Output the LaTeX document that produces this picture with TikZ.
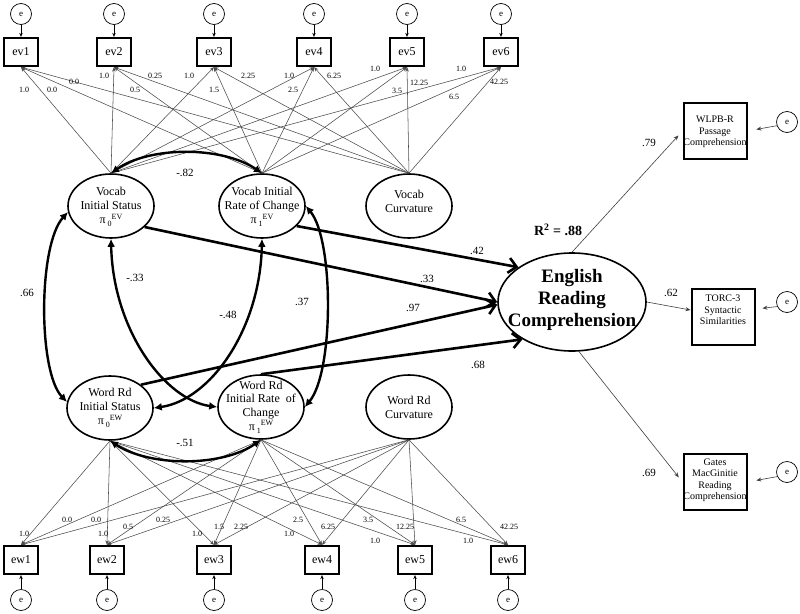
\documentclass[tikz,border=0pt]{standalone}
\usepackage{fontspec}
\setmainfont{Liberation Serif}
\usetikzlibrary{shapes.geometric,arrows.meta,calc}
\newcommand\pis[2]{π\,\raisebox{-0.5ex}{\fontsize{8}{8}\selectfont#1}\raisebox{0.8ex}{\fontsize{8}{8}\selectfont#2}}
\begin{document}
\begin{tikzpicture}[x=1pt,y=-1pt,
  obs/.style={draw,line width=2.3pt,minimum width=34pt,minimum height=28pt,inner sep=0pt,font=\fontsize{12}{13}\selectfont},
  err/.style={draw,circle,line width=0.7pt,minimum size=21pt,inner sep=0pt,font=\fontsize{9}{10}\selectfont},
  lat/.style={draw,ellipse,line width=1.6pt,minimum width=86pt,minimum height=64pt,inner sep=0pt},
  lt/.style={align=center,font=\fontsize{12}{14}\selectfont,inner sep=0pt},
  load/.style={draw=black!70,line width=0.55pt,-{Stealth[length=4.5pt,width=3.5pt]}},
  earr/.style={line width=0.6pt,-{Stealth[length=4pt,width=3.5pt]}},
  big/.style={line width=2.6pt,-{Straight Barb[length=8pt,width=15pt]}},
  corr/.style={line width=2.4pt,{Latex[length=8pt,width=8pt]}-{Latex[length=8pt,width=8pt]}},
  sl/.style={font=\fontsize{8}{9}\selectfont,inner sep=0pt},
  cl/.style={font=\fontsize{11}{12}\selectfont,inner sep=0pt},
  outbox/.style={draw,line width=2pt,minimum width=63pt,minimum height=56pt,inner sep=0pt},
  ot/.style={align=center,font=\fontsize{10}{11.5}\selectfont,inner sep=0pt},
  oarr/.style={draw=black!75,line width=0.6pt,-{Stealth[length=5pt,width=4pt]}}
]
\fill[white] (0,0) rectangle (800,613);
\useasboundingbox (0,0) rectangle (800,613);

% observed indicators, top and bottom
\foreach \i/\x in {1/21,2/114,3/214,4/314,5/407,6/501} {
  \node[obs] (ev\i) at (\x,52) {ev\i};
  \node[err] (eev\i) at (\x,14) {e};
  \draw[earr] (eev\i) -- (ev\i);
}
\foreach \i/\x in {1/21,2/107,3/214,4/322,5/415,6/508} {
  \node[obs] (ew\i) at (\x,560) {ew\i};
  \node[err] (eew\i) at (\x,600) {e};
  \draw[earr] (eew\i) -- (ew\i);
}

% latent growth factors
\node[lat] (VIS) at (111,206) {};
\node[lt] (VISt) at (111,207) {Vocab\\Initial Status\\\pis{0}{EV}};
\node[lat] (VRC) at (262,206) {};
\node[lt] (VRCt) at (262,207) {Vocab Initial\\Rate of Change\\\pis{1}{EV}};
\node[lat] (VC) at (409,206) {};
\node[lt] (VCt) at (409,201) {Vocab\\Curvature};
\node[lat] (WIS) at (110,408) {};
\node[lt] (WISt) at (110,408) {Word Rd\\Initial Status\\\pis{0}{EW}};
\node[lat] (WRC) at (261,407) {};
\node[lt,font=\fontsize{12}{13.7}\selectfont] (WRCt) at (261,407) {Word Rd\\Initial Rate~ of\\Change\\\pis{1}{EW}};
\node[lat] (WC) at (409,407) {};
\node[lt] (WCt) at (409,407) {Word Rd\\Curvature};

% loadings
\foreach \L in {VIS,VRC,VC} \foreach \i in {1,...,6} \draw[load] (\L.north) -- (ev\i.south);
\foreach \L in {WIS,WRC,WC} \foreach \i in {1,...,6} \draw[load] (\L.south) -- (ew\i.north);

\foreach [count=\k] \x/\y/\lab in {24/90/1.0,52/90/0.0,74/82/0.0,104/76/1.0,135/90/0.5,155/76/0.25,189/76/1.0,214/90/1.5,248/76/2.25,289/76/1.0,293/90/2.5,334/76/6.25,375/69/1.0,397/91/3.5,419/83/12.25,461/69/1.0,454/97/6.5,499/82/42.25}
  \node[sl] (tl\k) at (\x,\y) {\lab};
\foreach [count=\k] \x/\y/\lab in {24/534/1.0,67/520/0.0,96/520/0.0,103/534/1.0,128/527/0.5,163/520/0.25,197/534/1.0,219/527/1.5,241/527/2.25,289/534/1.0,298/520/2.5,328/527/6.25,368/520/3.5,375/541/1.0,405/527/12.25,461/520/6.5,468/541/1.0,509/527/42.25}
  \node[sl] (bl\k) at (\x,\y) {\lab};

% outcome
\node[draw,ellipse,line width=1.6pt,minimum width=148pt,minimum height=98pt,inner sep=0pt] (ERC) at (572,302) {};
\node[align=center,inner sep=0pt,font=\bfseries\fontsize{19}{22}\selectfont] (ERCt) at (572,300) {English\\Reading\\Comprehension};
\node[inner sep=0pt,font=\bfseries\fontsize{14}{16}\selectfont] (R2) at (558,230) {R\textsuperscript{2} = .88};

% structural paths
\draw[big] (VRC.-30) -- (ERC.147);
\draw[big] (VIS.-32) -- (ERC.180);
\draw[big] (WIS.37) -- (ERC.182);
\draw[big] (WRC.north) -- (ERC.217);
\node[cl] (p42) at (477,251) {.42};
\node[cl] (p33) at (427,279) {.33};
\node[cl] (p97) at (413,308) {.97};
\node[cl] (p68) at (478,365) {.68};

% correlations
\draw[corr] (VIS.north) .. controls (150,146) and (222,146) .. (VRC.north);
\draw[corr] (WIS.south) .. controls (150,467) and (222,467) .. (WRC.south);
\draw[corr] (VIS.188) .. controls (38,245) and (38,372) .. (WIS.172);
\draw[corr] (VIS.south) .. controls (113,330) and (165,400) .. (WRC.west);
\draw[corr] (VRC.south) .. controls (260,330) and (210,400) .. (WIS.east);
\draw[corr] (VRC.east) .. controls (334,240) and (334,372) .. (WRC.east);
\node[cl] (c82) at (185,173) {-.82};
\node[cl] (c66) at (27,293) {.66};
\node[cl] (c33) at (135,278) {-.33};
\node[cl] (c48) at (228,315) {-.48};
\node[cl] (c37) at (302,302) {.37};
\node[cl] (c51) at (185,443) {-.51};

% reading comprehension indicators
\node[outbox] (WLPB) at (715,131) {};
\node[ot] (WLPBt) at (715,132) {WLPB-R\\Passage\\Comprehension};
\node[outbox] (TORC) at (723,317) {};
\node[ot] (TORCt) at (723,310) {TORC-3\\Syntactic\\Similarities};
\node[outbox] (GMRC) at (715,482) {};
\node[ot] (GMRCt) at (715,480) {Gates\\MacGinitie\\Reading\\Comprehension};
\node[err] (eW) at (787,122) {e};
\node[err] (eT) at (787,302) {e};
\node[err] (eG) at (787,472) {e};

\draw[oarr,shorten >=6pt] (ERC.north) -- (WLPB.west);
\draw[oarr] (ERC.east) -- ([yshift=7pt]TORC.west);
\draw[oarr,shorten >=6pt] (ERC.-82) -- (GMRC.west);
\draw[oarr,shorten >=9pt] (eW.200) -- (WLPB.east);
\draw[oarr,shorten >=7pt] (eT.205) -- ([yshift=8pt]TORC.east);
\draw[oarr,shorten >=9pt] (eG.205) -- (GMRC.east);
\node[cl] (o79) at (649,143) {.79};
\node[cl] (o62) at (671,293) {.62};
\node[cl] (o69) at (649,473) {.69};
\end{tikzpicture}
\end{document}
